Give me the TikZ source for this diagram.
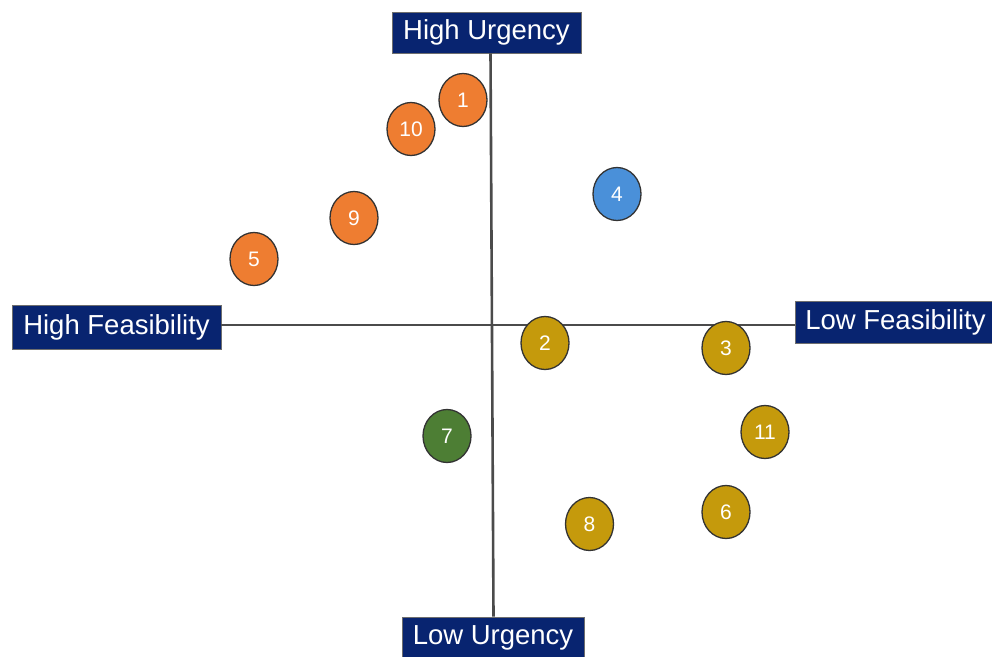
\documentclass[tikz,border=0pt]{standalone}
\usepackage{fontspec}
\setmainfont{Liberation Sans}
\usetikzlibrary{shapes.geometric}
\definecolor{navy}{RGB}{8,36,112}
\definecolor{borderg}{RGB}{110,110,110}
\definecolor{axisg}{RGB}{75,75,75}
\definecolor{orng}{RGB}{238,125,49}
\definecolor{blu}{RGB}{74,144,217}
\definecolor{gold}{RGB}{197,154,12}
\definecolor{grn}{RGB}{77,126,52}
\begin{document}
\begin{tikzpicture}[x=1pt,y=-1pt,
  lab/.style={fill=navy,draw=borderg,line width=0.8pt,text=white,inner sep=0pt,
    font=\fontsize{27.5}{30}\selectfont},
  bub/.style={ellipse,minimum width=48pt,minimum height=53pt,inner sep=0pt,
    draw=black!80,line width=1.3pt,text=white,font=\fontsize{21}{22}\selectfont},
  axisline/.style={draw=axisg,line width=2.6pt}]
\useasboundingbox (0,0) rectangle (992,656);
% label boxes
\node[lab,minimum width=189pt,minimum height=41pt] (hu) at (486.5,32.5) {High Urgency};
\node[lab,minimum width=209pt,minimum height=44pt] (hf) at (116.5,327) {High Feasibility};
\node[lab,minimum width=201pt,minimum height=42pt] (lf) at (895.5,322) {Low Feasibility};
\node[lab,minimum width=182pt,minimum height=42pt] (lu) at (493,638) {Low Urgency};
% axes
\coordinate (ax) at (0,325);
\coordinate (vt) at (490.5,0);
\coordinate (vb) at (493.5,0);
\draw[axisline] (hf.east |- ax) -- (lf.west |- ax);
\draw[axisline] (vt |- hu.south) -- (vb |- lu.north);
% bubbles
\node[bub,fill=orng] (n1) at (463,100) {1};
\node[bub,fill=orng] (n10) at (411,129) {10};
\node[bub,fill=orng] (n9) at (354,218) {9};
\node[bub,fill=orng] (n5) at (254,259) {5};
\node[bub,fill=blu] (n4) at (617,194) {4};
\node[bub,fill=gold] (n2) at (545,343) {2};
\node[bub,fill=gold] (n3) at (726,348) {3};
\node[bub,fill=grn] (n7) at (447,436) {7};
\node[bub,fill=gold] (n11) at (765,432) {11};
\node[bub,fill=gold] (n8) at (589.5,524) {8};
\node[bub,fill=gold] (n6) at (726,512) {6};
\end{tikzpicture}
\end{document}
